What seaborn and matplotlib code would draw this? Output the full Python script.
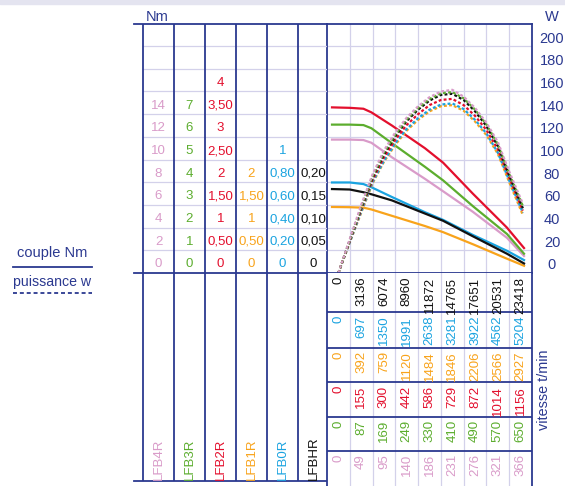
import matplotlib
matplotlib.use("Agg")
import matplotlib.pyplot as plt
import matplotlib.transforms as mtransforms
from matplotlib.lines import Line2D
from matplotlib.patches import Rectangle
import seaborn as sns
import pandas as pd
import numpy as np

FONT = ["Liberation Sans", "DejaVu Sans"]
plt.rcParams["font.family"] = FONT

NAVY = "#2b3990"
LIGHT = "#d3d1ea"
W_PX, H_PX = 565, 486

motors = ["LFB4R", "LFB3R", "LFB2R", "LFB1R", "LFB0R", "LFBHR"]
colors = ["#d99bc9", "#5cad2e", "#e30f2d", "#f8a31b", "#1aa3e0", "#111111"]

# Nm per grid step (one step = 20 W)
torque_step = [2, 1, 0.5, 0.5, 0.2, 0.05]
torque_labels = [
    ["0", "2", "4", "6", "8", "10", "12", "14"],
    ["0", "1", "2", "3", "4", "5", "6", "7"],
    ["0", "0,50", "1", "1,50", "2", "2,50", "3", "3,50", "4"],
    ["0", "0,50", "1", "1,50", "2"],
    ["0", "0,20", "0,40", "0,60", "0,80", "1"],
    ["0", "0,05", "0,10", "0,15", "0,20"],
]
power_ticks = [0, 20, 40, 60, 80, 100, 120, 140, 160, 180, 200]

# speed table (t/min), one row per motor, top to bottom
table_order = ["LFBHR", "LFB0R", "LFB1R", "LFB2R", "LFB3R", "LFB4R"]
speed_HR = [0, 3136, 6074, 8960, 11872, 14765, 17651, 20531, 23418]
speed_0R = [0, 697, 1350, 1991, 2638, 3281, 3922, 4562, 5204]
speed_1R = [0, 392, 759, 1120, 1484, 1846, 2206, 2566, 2927]
speed_2R = [0, 155, 300, 442, 586, 729, 872, 1014, 1156]
speed_3R = [0, 87, 169, 249, 330, 410, 490, 570, 650]
speed_4R = [0, 49, 95, 140, 186, 231, 276, 321, 366]
speed_rows = [speed_HR, speed_0R, speed_1R, speed_2R, speed_3R, speed_4R]

# torque curves (Nm), x = speed column position
torque_x = [-0.28, 0.5, 1.1, 1.45, 2.35, 3.8, 4.6, 5.9, 7.4, 8.15]
torque_4R = [11.76, 11.76, 11.72, 11.48, 10.2, 8.3, 7.2, 5.4, 3.1, 1.5]
torque_3R = [6.54, 6.54, 6.52, 6.38, 5.72, 4.68, 4.08, 2.95, 1.72, 0.85]
torque_2R = [3.65, 3.64, 3.62, 3.54, 3.25, 2.75, 2.43, 1.75, 1.0, 0.55]
torque_1R = [1.455, 1.45, 1.44, 1.4, 1.26, 1.035, 0.9, 0.635, 0.315, 0.16]
torque_0R = [0.798, 0.798, 0.784, 0.756, 0.67, 0.536, 0.468, 0.336, 0.196, 0.114]
torque_HR = [0.185, 0.184, 0.178, 0.1735, 0.16, 0.131, 0.115, 0.081, 0.0425, 0.021]
torques = [torque_4R, torque_3R, torque_2R, torque_1R, torque_0R, torque_HR]

# power curves (W)
power_x = [0, 0.5, 1, 1.5, 2, 2.5, 3, 3.5, 4, 4.5, 5, 5.5, 6, 6.5, 7, 7.5, 8.1]
power_4R = [0, 30, 60, 87, 108, 124, 137, 147, 155, 160, 161.5, 155.5, 145.5, 132.5, 115.5, 89.5, 61]
power_3R = [0, 29, 58, 85, 106, 122, 135.5, 145.5, 153.5, 158.5, 159.5, 154, 144, 131, 113.5, 87.5, 59]
power_2R = [0, 28, 56, 82, 102, 117.5, 130.5, 140, 148, 152.5, 153.5, 148, 138.5, 126, 109, 84, 55]
power_1R = [0, 27, 53, 79, 98, 113, 125.5, 135, 142.5, 147, 148, 143, 133.5, 121.5, 105, 80, 51]
power_0R = [0, 27, 54, 80, 99, 114.5, 127, 136.5, 144, 148.5, 149.5, 144.5, 135, 123, 106, 81.5, 53]
power_HR = [0, 29, 57, 84, 104.5, 120.5, 134, 144, 152, 157, 158, 152.5, 142.5, 129.5, 112, 86, 57]
powers = [power_4R, power_3R, power_2R, power_1R, power_0R, power_HR]

palette = dict(zip(motors, colors))

t_rows, p_rows = [], []
for m, step, tq, pw in zip(motors, torque_step, torques, powers):
    for x, v in zip(torque_x, tq):
        t_rows.append({"motor": m, "pos": x, "val": v / step * 20})
    for x, v in zip(power_x, pw):
        p_rows.append({"motor": m, "pos": x, "val": v})
df_t = pd.DataFrame(t_rows)
df_p = pd.DataFrame(p_rows)


def box(x0, y0, x1, y1):
    return [x0 / W_PX, 1 - y1 / H_PX, (x1 - x0) / W_PX, (y1 - y0) / H_PX]


Y_TOP = 219.5
unit = (273 - 24) / Y_TOP  # px per W
TS = 9.5    # table font size
AS = 10.5   # axis font size

fig = plt.figure(figsize=(W_PX / 100, H_PX / 100), dpi=100)
fig.patches.append(Rectangle((0, 1 - 4.5 / H_PX), 1, 4.5 / H_PX,
                             transform=fig.transFigure, color="#e4e4f0", zorder=0))

# main chart
ax = fig.add_axes(box(327, 24, 532, 273))
sns.lineplot(data=df_t, x="pos", y="val", hue="motor", palette=palette,
             sort=False, estimator=None, lw=1.6, legend=False, ax=ax)
# inner curves first so the outer ones stay visible
power_order = ["LFB1R", "LFB0R", "LFB2R", "LFBHR", "LFB3R", "LFB4R"]
sns.lineplot(data=df_p, x="pos", y="val", hue="motor", hue_order=power_order,
             palette=palette, sort=False, estimator=None, lw=1.6,
             linestyle=(0, (1.3, 1.0)), legend=False, ax=ax)
ax.set_xlim(-0.5, 8.5)
ax.set_ylim(0, Y_TOP)
ax.set_xticks(np.arange(0.5, 8, 1))
ax.set_yticks(power_ticks[1:])
ax.set_xticklabels([])
ax.set_yticklabels([])
ax.tick_params(length=0)
ax.grid(True, color=LIGHT, lw=0.9)
ax.set_axisbelow(True)
ax.set_xlabel("")
ax.set_ylabel("")
for s in ax.spines.values():
    s.set_color(NAVY)
    s.set_linewidth(1.3)
trans = mtransforms.blended_transform_factory(ax.transAxes, ax.transData)
for v in power_ticks:
    ax.text((552 - 327) / 205, v + 6.7, str(v), transform=trans, ha="center",
            va="center", color=NAVY, fontsize=AS, clip_on=False)

# left table
axl = fig.add_axes(box(134, 24, 327, 481))
col_w = 31
axl.set_xlim(-9 / col_w, (327 - 143) / col_w)
axl.set_ylim(-(481 - 273) / unit, Y_TOP)
axl.axis("off")
for v in power_ticks[1:]:
    axl.plot([0, 6], [v, v], color=LIGHT, lw=0.9, zorder=1)
for k in range(6):
    axl.axvline(k, color=NAVY, lw=1.3)
for yy in [Y_TOP, 0, -(481 - 273) / unit]:
    axl.axhline(yy, color=NAVY, lw=1.3, clip_on=False)
for k, (labels, c, m) in enumerate(zip(torque_labels, colors, motors)):
    for i, lab in enumerate(labels):
        axl.text(k + 0.5, i * 20 + 7.5, lab, ha="center", va="center",
                 color=c, fontsize=TS)
    axl.text(k + 0.5, -(480 - 273) / unit, m, rotation=90, ha="center",
             va="bottom", color=c, fontsize=TS)

# speed table
axb = fig.add_axes(box(327, 273, 532, 486))
axb.set_xlim(-0.5, 8.5)
axb.set_ylim(213, 0)
axb.set_xticks([])
axb.set_yticks([])
for side in ["top", "bottom"]:
    axb.spines[side].set_visible(False)
for side in ["left", "right"]:
    axb.spines[side].set_color(NAVY)
    axb.spines[side].set_linewidth(1.3)
row_edges = [0, 39.3, 74.7, 109.3, 143.7, 177.7, 213]
for x in np.arange(0.5, 8, 1):
    axb.axvline(x, color=LIGHT, lw=0.9)
for yy in row_edges[1:-1]:
    axb.axhline(yy, color=NAVY, lw=1.3)
for r, (m, speeds) in enumerate(zip(table_order, speed_rows)):
    for i, s in enumerate(speeds):
        axb.text(i, row_edges[r] + 3.5, str(s), rotation=90, ha="center",
                 va="top", color=palette[m], fontsize=TS)

# labels and key
fig.text(157 / W_PX, 1 - 17 / H_PX, "Nm", ha="center", va="center", color=NAVY, fontsize=AS)
fig.text(552 / W_PX, 1 - 17 / H_PX, "W", ha="center", va="center", color=NAVY, fontsize=AS)
fig.text(544 / W_PX, 1 - 390 / H_PX, "vitesse t/min", rotation=90, ha="center",
         va="center", color=NAVY, fontsize=10.4)
fig.text(52 / W_PX, 1 - 253 / H_PX, "couple Nm", ha="center", va="center", color=NAVY, fontsize=10.5)
fig.text(52 / W_PX, 1 - 282 / H_PX, "puissance w", ha="center", va="center", color=NAVY, fontsize=10.2)
fig.add_artist(Line2D([13 / W_PX, 92 / W_PX], [1 - 267 / H_PX] * 2, color=NAVY, lw=1.3))
fig.add_artist(Line2D([13 / W_PX, 92 / W_PX], [1 - 293 / H_PX] * 2, color=NAVY, lw=1.3,
                      linestyle=(0, (2.2, 1.6))))

fig.savefig("out.png", dpi=100)
